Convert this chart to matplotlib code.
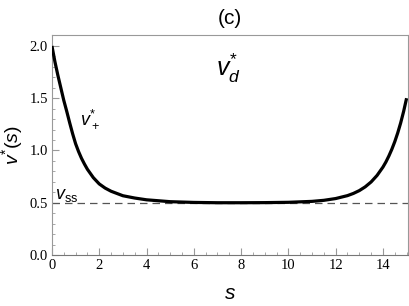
"""
Recreation of panel (c): v*(s) profile with steady-state reference line.
"""

import numpy as np
import matplotlib
matplotlib.use("Agg")
import matplotlib.pyplot as plt
from matplotlib.ticker import MultipleLocator

# Values
S_VALUES = [0.0, 0.125, 0.25, 0.375, 0.5, 0.625, 0.75, 0.875, 1.0, 1.125,
            1.25, 1.375, 1.5, 1.75, 2.0, 2.25, 2.5, 3.0, 3.5, 4.0, 5.0, 6.0,
            7.0, 8.0, 9.0, 10.0, 11.0, 11.5, 12.0, 12.5, 12.75, 13.0, 13.25,
            13.5, 13.75, 14.0, 14.125, 14.25, 14.375, 14.5, 14.625, 14.75,
            14.875, 15.0]
V_VALUES = [2.00, 1.85, 1.72, 1.60, 1.48, 1.375, 1.265, 1.16, 1.065, 0.99,
            0.925, 0.87, 0.82, 0.74, 0.68, 0.64, 0.61, 0.567, 0.545, 0.528,
            0.51, 0.503, 0.50, 0.50, 0.501, 0.504, 0.513, 0.523, 0.54, 0.568,
            0.589, 0.616, 0.652, 0.699, 0.761, 0.841, 0.89, 0.947, 1.011,
            1.084, 1.168, 1.264, 1.374, 1.50]
V_SS = 0.5

X_TICKS = [0, 2, 4, 6, 8, 10, 12, 14]
Y_TICKS = [0.0, 0.5, 1.0, 1.5, 2.0]

FRAME = "#999999"

plt.rcParams["mathtext.fontset"] = "custom"
plt.rcParams["mathtext.rm"] = "Liberation Sans"
plt.rcParams["mathtext.it"] = "Liberation Sans:italic"
plt.rcParams["mathtext.bf"] = "Liberation Sans:bold"


def main():
    fig = plt.figure(figsize=(4.09, 3.06), dpi=100)
    ax = fig.add_axes([0.127, 0.1667, 0.870, 0.719])

    ax.plot(S_VALUES, V_VALUES, color="black", linewidth=2.3,
            solid_capstyle="butt", solid_joinstyle="round", zorder=3)
    ax.axhline(V_SS, color="#555555", linewidth=0.9, dashes=(6, 4), zorder=2)

    ax.set_xlim(0, 15.05)
    ax.set_ylim(0, 2.105)

    ax.set_xticks(X_TICKS)
    ax.set_yticks(Y_TICKS)
    ax.set_yticklabels([f"{t:.1f}" for t in Y_TICKS])
    ax.xaxis.set_minor_locator(MultipleLocator(0.5))
    ax.yaxis.set_minor_locator(MultipleLocator(0.1))
    ax.tick_params(which="both", direction="in", colors=FRAME,
                   labelcolor="black", top=False, right=False)
    ax.tick_params(which="major", length=5, width=0.8, pad=3)
    ax.tick_params(which="minor", length=2.5, width=0.6)
    for lab in ax.get_xticklabels() + ax.get_yticklabels():
        lab.set_fontfamily("Liberation Serif")
        lab.set_fontsize(10.5)

    for side in ["left", "top", "right", "bottom"]:
        ax.spines[side].set_color(FRAME)
        ax.spines[side].set_linewidth(0.8)
    ax.spines["bottom"].set_color("#777777")

    ax.set_xlabel(r"$s$", fontsize=15, labelpad=8)
    ax.set_ylabel(r"$v^{*}(s)$", fontsize=14, labelpad=3)
    ax.set_title("(c)", fontsize=15, fontfamily="Liberation Sans", pad=8)

    ax.text(7.45, 1.79, r"$v_d^{*}$", fontsize=18, ha="center", va="center")
    ax.text(1.2, 1.30, r"$v_+^{*}$", fontsize=13, ha="left", va="center")
    ax.text(0.12, 0.575, r"$v_{\mathrm{ss}}$", fontsize=13, ha="left",
            va="center")

    plt.savefig("out.png", dpi=100)
    plt.close()


if __name__ == "__main__":
    main()
